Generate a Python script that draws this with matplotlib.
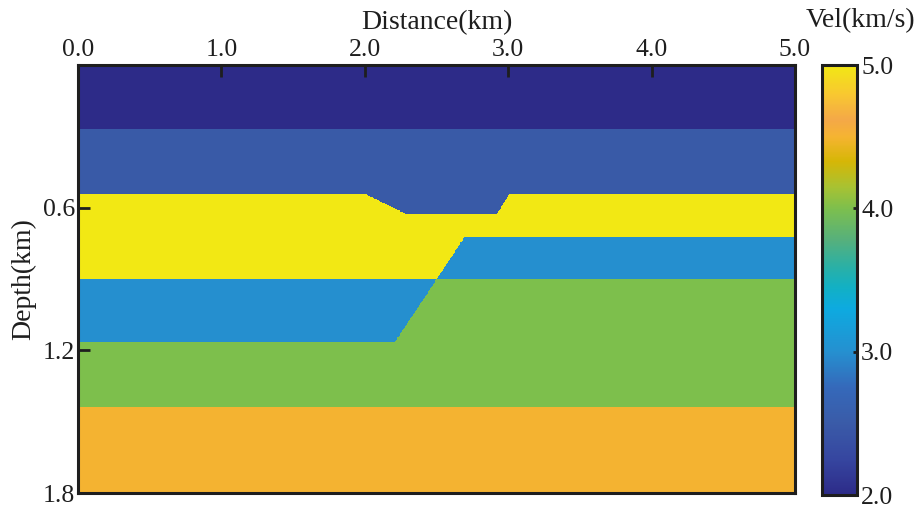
import numpy as np
import matplotlib
matplotlib.use("Agg")
import matplotlib.pyplot as plt
from matplotlib.colors import LinearSegmentedColormap

plt.rcParams['font.family'] = ['Liberation Serif', 'DejaVu Serif']

# ---- model data (km, km/s) ----
x_extent = [0.0, 5.0]
z_extent = [0.0, 1.8]
layer_vel = {"water": 2.0, "shale": 2.5, "salt": 5.0, "sand": 3.0, "lime": 4.0, "base": 4.5}
iface1_depth = 0.27
iface2_x = [0.0, 2.0, 2.29, 2.92, 3.01, 5.0]
iface2_z = [0.541, 0.541, 0.627, 0.627, 0.541, 0.541]
yellow_bottom_left, yellow_bottom_right = 0.902, 0.722
blue_bottom_left, blue_bottom_right = 1.167, 0.902
green_bottom = 1.439
fault_x0, fault_z0, fault_slope = 2.50, 0.902, -1.10   # x = x0 + slope*(z - z0)

xticks = [0, 1, 2, 3, 4, 5]
xtick_labels = ["0.0", "1.0", "2.0", "3.0", "4.0", "5.0"]
yticks = [0.6, 1.2, 1.8]
ytick_labels = ["0.6", "1.2", "1.8"]
cb_ticks = [2.0, 3.0, 4.0, 5.0]
cb_labels = ["2.0", "3.0", "4.0", "5.0"]

# colormap anchors (value, colour)
cmap_vals = [2.00, 2.25, 2.50, 2.75, 3.00, 3.30, 3.45, 3.60, 3.78, 4.00, 4.15, 4.33, 4.50, 4.62, 4.80, 5.00]
cmap_cols = ["#2D2B88", "#3646A0", "#3A5BA8", "#3569BA", "#2590D0", "#0DAAE0", "#12B0C4",
             "#2CB0A4", "#56B07C", "#7DBF4D", "#A8C232", "#D6B606", "#F5B431", "#F4A848",
             "#F8C830", "#F2E814"]

# ---- build velocity grid ----
nx, nz = 1001, 721
xs = np.linspace(x_extent[0], x_extent[1], nx)
zs = np.linspace(z_extent[0], z_extent[1], nz)
X, Z = np.meshgrid(xs, zs)
xf = fault_x0 + fault_slope * (Z - fault_z0)
right = X > xf
yb = np.where(right, yellow_bottom_right, yellow_bottom_left)
bb = np.where(right, blue_bottom_right, blue_bottom_left)
i2 = np.interp(X, iface2_x, iface2_z)

V = np.full(X.shape, layer_vel["base"])
V[Z < green_bottom] = layer_vel["lime"]
V[Z < bb] = layer_vel["sand"]
V[Z < yb] = layer_vel["salt"]
V[Z < i2] = layer_vel["shale"]
V[Z < iface1_depth] = layer_vel["water"]

vmin, vmax = cmap_vals[0], cmap_vals[-1]
cmap = LinearSegmentedColormap.from_list(
    "par", [((v - vmin) / (vmax - vmin), c) for v, c in zip(cmap_vals, cmap_cols)], N=512)

TXT = '#1e1e1e'
W, H = 924, 514
fig = plt.figure(figsize=(W / 100, H / 100), dpi=100)
ax = fig.add_axes([78 / W, 1 - 493 / H, (795 - 78) / W, (493 - 65) / H])
im = ax.imshow(V, extent=[x_extent[0], x_extent[1], z_extent[1], z_extent[0]],
               aspect='auto', cmap=cmap, vmin=vmin, vmax=vmax, interpolation='nearest')
ax.set_xlim(x_extent)
ax.set_ylim(z_extent[1], z_extent[0])
ax.xaxis.tick_top()
ax.xaxis.set_label_position('top')
ax.set_xticks(xticks)
ax.set_xticklabels(xtick_labels)
ax.set_yticks(yticks)
ax.set_yticklabels(ytick_labels)
ax.tick_params(axis='both', direction='in', length=8.5, width=2.0, labelsize=18.5,
               color=TXT, labelcolor=TXT)
ax.tick_params(axis='x', pad=3)
ax.tick_params(axis='y', pad=2)
for s in ax.spines.values():
    s.set_linewidth(2.2)
    s.set_color(TXT)
ax.set_xlabel("Distance(km)", fontsize=20, labelpad=7, color=TXT)
ax.set_ylabel("Depth(km)", fontsize=20, labelpad=5, color=TXT)

cax = fig.add_axes([822 / W, 1 - 495 / H, (857 - 822) / W, (495 - 65) / H])
cb = fig.colorbar(im, cax=cax)
cb.set_ticks(cb_ticks)
cb.set_ticklabels(cb_labels)
cax.tick_params(direction='in', length=3, width=2, labelsize=18.5, pad=3,
                color=TXT, labelcolor=TXT)
cb.outline.set_linewidth(2.2)
cb.outline.set_edgecolor(TXT)
fig.text(861 / W, 1 - 21 / H, "Vel(km/s)", ha='center', va='center', fontsize=20, color=TXT)

fig.savefig("out.png", dpi=100)
